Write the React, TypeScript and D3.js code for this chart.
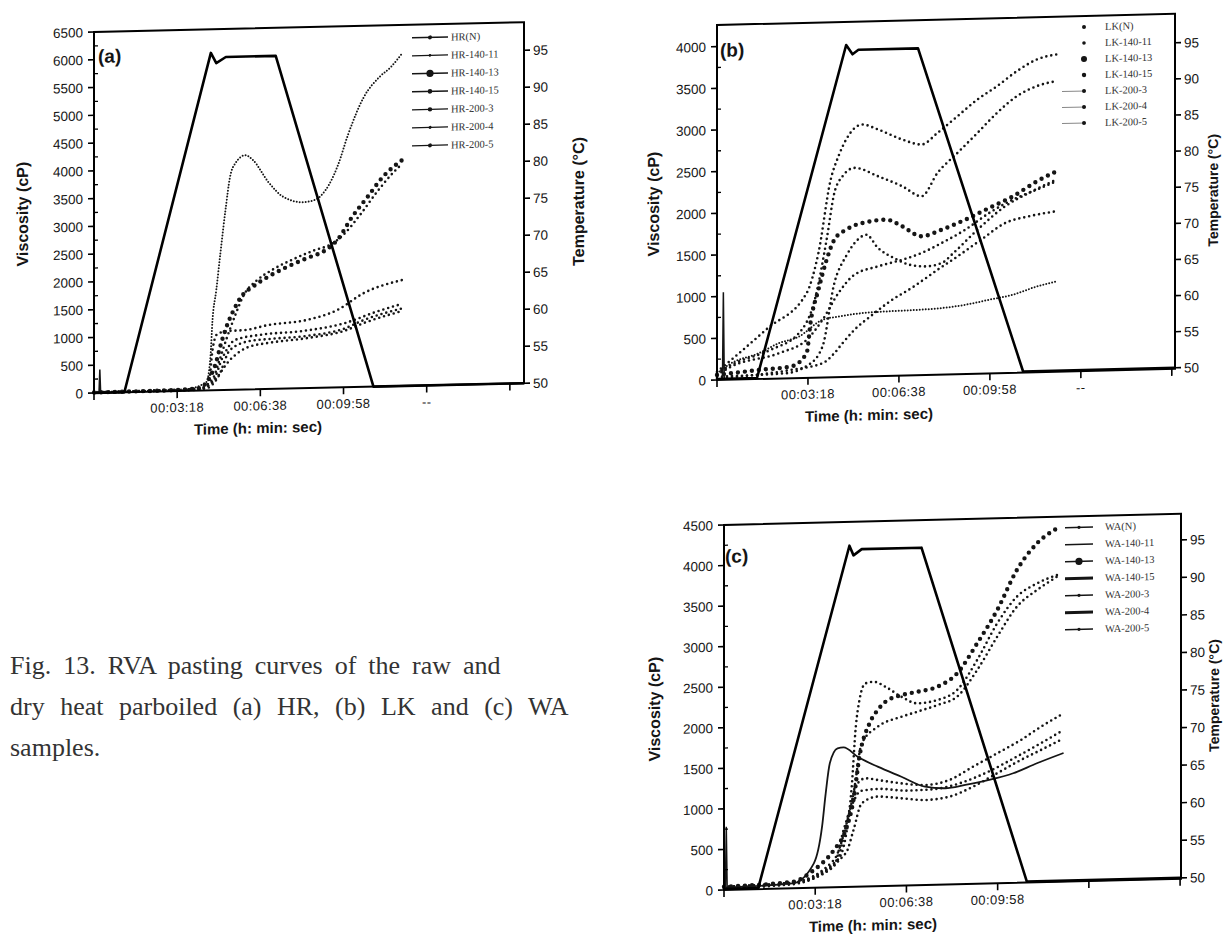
import React from "react";
import * as d3 from "d3";

type Pt = [number, number];

// ---------- shared axis data ----------
const TIME_TICKS = [0, 200, 400, 600, 800, 1000];
const TIME_LABELS_AB = ["", "00:03:18", "00:06:38", "00:09:58", "--", ""];
const TIME_LABELS_C = ["", "00:03:18", "00:06:38", "00:09:58", "", ""];
const TEMP_TICKS = [50, 55, 60, 65, 70, 75, 80, 85, 90, 95];
const VISC_TICKS_A = [0, 500, 1000, 1500, 2000, 2500, 3000, 3500, 4000, 4500, 5000, 5500, 6000, 6500];
const VISC_TICKS_B = [0, 500, 1000, 1500, 2000, 2500, 3000, 3500, 4000];
const VISC_TICKS_C = [0, 500, 1000, 1500, 2000, 2500, 3000, 3500, 4000, 4500];

// ---------- panel (a) HR : [time s, viscosity cP] ----------
const HR_NAMES = ["HR(N)", "HR-140-11", "HR-140-13", "HR-140-15", "HR-200-3", "HR-200-4", "HR-200-5"];
const HR_N: Pt[] = [[0, 20], [120, 20], [220, 30], [270, 150], [280, 600], [285, 1266], [294, 1800], [304, 2470], [317, 3290], [327, 3830], [340, 4080], [364, 4220], [382, 4130], [419, 3730], [456, 3450], [502, 3350], [529, 3380], [557, 3560], [585, 3970], [612, 4570], [649, 5220], [686, 5570], [714, 5750], [741, 5990]];
const HR_140_11: Pt[] = [[0, 10], [250, 30], [285, 200], [300, 500], [320, 950], [340, 1350], [360, 1700], [390, 1950], [430, 2150], [480, 2330], [530, 2480], [570, 2580], [600, 2750], [640, 3100], [680, 3500], [720, 3850], [741, 4000]];
const HR_140_13: Pt[] = [[0, 10], [150, 15], [250, 40], [290, 424], [308, 902], [322, 1205], [336, 1437], [354, 1674], [382, 1849], [419, 2023], [465, 2195], [511, 2337], [557, 2479], [585, 2655], [621, 3068], [658, 3422], [695, 3776], [741, 4068]];
const HR_140_15: Pt[] = [[0, 10], [200, 20], [260, 50], [276, 133], [285, 726], [295, 1000], [320, 1060], [364, 1072], [419, 1153], [511, 1227], [585, 1395], [649, 1690], [741, 1908]];
const HR_200_3: Pt[] = [[0, 10], [200, 20], [270, 40], [299, 242], [327, 718], [373, 870], [419, 900], [511, 940], [603, 1061], [649, 1204], [741, 1398]];
const HR_200_4: Pt[] = [[0, 5], [250, 15], [290, 185], [327, 540], [373, 770], [419, 830], [511, 900], [603, 1020], [649, 1150], [741, 1350]];
const HR_200_5: Pt[] = [[0, 5], [250, 20], [285, 150], [310, 600], [340, 900], [400, 980], [500, 1030], [600, 1150], [680, 1350], [741, 1480]];
const HR_SPIKE: Pt[] = [[12, 0], [14, 420], [16, 0]];
const HR_TEMP: Pt[] = [[0, 50], [73, 50], [281, 95.6], [294, 94.2], [317, 95.0], [437, 95.0], [672, 50], [1034, 50]];

// ---------- panel (b) LK ----------
const LK_NAMES = ["LK(N)", "LK-140-11", "LK-140-13", "LK-140-15", "LK-200-3", "LK-200-4", "LK-200-5"];
const LK_N: Pt[] = [[0, 100], [31, 236], [110, 600], [197, 1016], [223, 1494], [250, 2371], [267, 2649], [284, 2848], [319, 3023], [354, 2959], [407, 2832], [450, 2766], [485, 2901], [529, 3096], [573, 3291], [616, 3445], [660, 3620], [704, 3754], [747, 3808]];
const LK_140_11: Pt[] = [[0, 80], [31, 176], [118, 346], [180, 537], [215, 934], [241, 1651], [258, 2210], [276, 2408], [302, 2505], [354, 2398], [407, 2271], [450, 2145], [485, 2421], [529, 2656], [573, 2890], [616, 3125], [660, 3320], [704, 3434], [747, 3488]];
const LK_140_13: Pt[] = [[0, 60], [92, 108], [162, 139], [197, 295], [206, 674], [223, 1053], [241, 1410], [258, 1649], [284, 1766], [319, 1841], [372, 1874], [407, 1790], [450, 1664], [494, 1738], [546, 1851], [599, 1986], [651, 2119], [704, 2292], [747, 2406]];
const LK_140_15: Pt[] = [[0, 40], [150, 60], [200, 150], [232, 371], [258, 1128], [284, 1450], [311, 1650], [328, 1700], [354, 1537], [389, 1412], [424, 1326], [459, 1302], [494, 1337], [520, 1455], [573, 1728], [634, 2001], [686, 2154], [747, 2306]];
const LK_200_3: Pt[] = [[0, 60], [31, 156], [136, 303], [197, 455], [232, 691], [267, 1007], [302, 1222], [354, 1316], [407, 1389], [450, 1464], [494, 1578], [546, 1731], [599, 1926], [651, 2079], [704, 2192], [747, 2286]];
const LK_200_4: Pt[] = [[0, 20], [162, 99], [232, 170], [258, 287], [276, 405], [302, 561], [337, 717], [380, 892], [433, 1065], [485, 1258], [529, 1413], [581, 1607], [634, 1800], [686, 1873], [747, 1926]];
const LK_200_5: Pt[] = [[0, 80], [31, 196], [92, 309], [136, 423], [180, 497], [232, 691], [267, 726], [319, 760], [372, 773], [442, 783], [494, 797], [546, 830], [599, 884], [651, 937], [704, 1030], [747, 1084]];
const LK_SPIKE: Pt[] = [[12, 0], [14, 1050], [16, 0]];
const LK_TEMP: Pt[] = [[0, 50], [88, 50], [284, 95.8], [298, 94.5], [311, 95.1], [442, 95.1], [673, 50], [1007, 50]];

// ---------- panel (c) WA ----------
const WA_NAMES = ["WA(N)", "WA-140-11", "WA-140-13", "WA-140-15", "WA-200-3", "WA-200-4", "WA-200-5"];
const WA_N: Pt[] = [[0, 40], [150, 70], [249, 336], [267, 621], [280, 1235], [289, 1973], [297, 2301], [310, 2504], [328, 2522], [354, 2457], [389, 2329], [424, 2243], [468, 2278], [511, 2395], [555, 2759], [599, 3205], [642, 3527], [686, 3685], [730, 3782]];
const WA_140_11: Pt[] = [[0, 40], [150, 70], [241, 337], [267, 744], [284, 1153], [302, 1766], [337, 1967], [389, 2082], [424, 2140], [468, 2216], [511, 2313], [555, 2635], [599, 3040], [642, 3403], [686, 3603], [730, 3761]];
const WA_140_13: Pt[] = [[0, 40], [150, 80], [197, 219], [241, 460], [267, 703], [284, 1071], [297, 1603], [319, 2010], [337, 2173], [354, 2272], [389, 2349], [424, 2386], [468, 2442], [511, 2600], [555, 2964], [599, 3369], [642, 3855], [686, 4178], [730, 4357]];
const WA_140_15: Pt[] = [[0, 30], [150, 60], [249, 336], [258, 511], [275, 949], [293, 1274], [310, 1334], [337, 1310], [389, 1261], [441, 1234], [494, 1288], [546, 1445], [599, 1603], [651, 1760], [695, 1918], [738, 2056]];
const WA_200_3: Pt[] = [[0, 20], [150, 50], [267, 416], [284, 701], [302, 1027], [337, 1105], [389, 1077], [441, 1049], [494, 1083], [546, 1199], [599, 1357], [651, 1514], [695, 1631], [738, 1748]];
const WA_200_4: Pt[] = [[0, 30], [150, 60], [197, 302], [215, 751], [223, 1161], [232, 1530], [249, 1712], [262, 1723], [293, 1603], [337, 1474], [389, 1343], [441, 1213], [485, 1188], [529, 1223], [581, 1277], [634, 1352], [686, 1468], [743, 1584]];
const WA_200_5: Pt[] = [[0, 20], [150, 60], [240, 250], [262, 700], [280, 1000], [300, 1180], [340, 1200], [400, 1170], [460, 1180], [520, 1250], [580, 1380], [640, 1550], [690, 1700], [738, 1850]];
const WA_SPIKE: Pt[] = [[3, 0], [5, 780], [7, 0]];
const WA_TEMP: Pt[] = [[0, 50], [75, 50], [275, 95.3], [284, 94.0], [302, 94.8], [433, 94.8], [664, 50], [1002, 50]];

// ---------- styles ----------
type StyleKey = "fine" | "dot" | "big" | "line" | "thick";
const STYLES: Record<StyleKey, { w: number; dash: string | null }> = {
  fine: { w: 2.0, dash: "0 3" },
  dot: { w: 2.6, dash: "0 5" },
  big: { w: 4.4, dash: "0 7" },
  line: { w: 1.8, dash: null },
  thick: { w: 2.6, dash: null },
};
const HR_STYLES: StyleKey[] = ["fine", "dot", "big", "dot", "dot", "dot", "dot"];
const LK_STYLES: StyleKey[] = ["dot", "dot", "big", "dot", "dot", "dot", "fine"];
const WA_STYLES: StyleKey[] = ["dot", "dot", "big", "dot", "dot", "line", "dot"];

type Cfg = {
  left: number; right: number; top: number; bottom: number;
  tMax: number; yMax: number; t50: number; t95: number; angle: number;
  vTicks: number[]; timeLabels: string[]; series: Pt[][]; styles: StyleKey[];
  names: string[]; spike: Pt[]; temp: Pt[]; tag: string;
  tagX: number; tagY: number; vTitleX: number; tTitleX: number; tTitleSize: number; timeTitleX: number;
  legend: { kind: "a" | "b" | "c"; x0: number; x1: number; tx: number; y0: number; dy: number; radii: number[]; widths: number[]; lines: boolean[] };
};

const SANS = "'Liberation Sans', Arial, sans-serif";
const SERIF = "'Liberation Serif', 'Times New Roman', serif";
const INK = "#151515";

function Panel({ c }: { c: Cfg }) {
  const x = d3.scaleLinear().domain([0, c.tMax]).range([c.left, c.right]);
  const y = d3.scaleLinear().domain([0, c.yMax]).range([c.bottom, c.top]);
  const yT = d3.scaleLinear().domain([50, 95]).range([c.t50, c.t95]);
  const vLine = d3.line<Pt>().x((d) => x(d[0])).y((d) => y(d[1])).curve(d3.curveMonotoneX);
  const sLine = d3.line<Pt>().x((d) => x(d[0])).y((d) => y(d[1]));
  const tLine = d3.line<Pt>().x((d) => x(d[0])).y((d) => yT(d[1]));
  const minor = c.vTicks.slice(0, -1).map((v) => v + 250);
  const midY = (c.top + c.bottom) / 2;
  const lg = c.legend;
  // the scanned page is slightly tilted: shear the panel about its lower-left corner
  const tf = `translate(${c.left} ${c.bottom}) skewY(${c.angle}) translate(${-c.left} ${-c.bottom})`;
  return (
    <g transform={tf}>
      {c.series.map((s, i) => {
        const st = STYLES[c.styles[i]];
        return (
          <path key={i} d={vLine(s) || ""} fill="none" stroke={INK} strokeWidth={st.w}
            strokeDasharray={st.dash || undefined} strokeLinecap="round" strokeLinejoin="round" />
        );
      })}
      <path d={sLine(c.spike) || ""} fill="none" stroke={INK} strokeWidth={1.5} />
      <path d={tLine(c.temp) || ""} fill="none" stroke="#000" strokeWidth={2.6} strokeLinejoin="round" />
      <rect x={c.left} y={c.top} width={c.right - c.left} height={c.bottom - c.top} fill="none" stroke="#000" strokeWidth={2} />
      {c.vTicks.map((v) => (
        <g key={v}>
          <line x1={c.left - 6} x2={c.left} y1={y(v)} y2={y(v)} stroke="#000" strokeWidth={1.6} />
          <text x={c.left - 11} y={y(v) + 5} textAnchor="end" fontFamily={SANS} fontSize={13.5} fill={INK}>{v}</text>
        </g>
      ))}
      {minor.map((v) => (
        <line key={"m" + v} x1={c.left} x2={c.left + 4} y1={y(v)} y2={y(v)} stroke="#000" strokeWidth={1.3} />
      ))}
      {TEMP_TICKS.map((t) => (
        <g key={t}>
          <line x1={c.right} x2={c.right + 6} y1={yT(t)} y2={yT(t)} stroke="#000" strokeWidth={1.6} />
          <text x={c.right + 9} y={yT(t) + 5} fontFamily={SANS} fontSize={13.5} fill={INK}>{t}</text>
        </g>
      ))}
      {TIME_TICKS.map((t, i) => (
        <g key={t}>
          <line x1={x(t)} x2={x(t)} y1={c.bottom} y2={c.bottom + 7} stroke="#000" strokeWidth={1.6} />
          <text x={x(t)} y={c.bottom + 21} textAnchor="middle" fontFamily={SANS} fontSize={13} letterSpacing={0.4} fill={INK}>{c.timeLabels[i]}</text>
        </g>
      ))}
      <text x={c.timeTitleX} y={c.bottom + 44} textAnchor="middle" fontFamily={SANS} fontSize={15} fontWeight="bold" fill={INK}>Time (h: min: sec)</text>
      <text transform={`translate(${c.vTitleX},${midY}) rotate(-90)`} textAnchor="middle" fontFamily={SANS} fontSize={16} fontWeight="bold" fill={INK}>Viscosity (cP)</text>
      <text transform={`translate(${c.tTitleX},${midY}) rotate(-90)`} textAnchor="middle" fontFamily={SANS} fontSize={c.tTitleSize} fontWeight="bold" fill={INK}>Temperature (°C)</text>
      <text x={c.tagX} y={c.tagY} fontFamily={SANS} fontSize={19} fontWeight="bold" fill={INK}>{c.tag}</text>
      {c.names.map((n, i) => {
        const ly = lg.y0 + i * lg.dy;
        const mx = (lg.x0 + lg.x1) / 2;
        return (
          <g key={n}>
            {lg.lines[i] && (
              <line x1={lg.x0} x2={lg.x1} y1={ly} y2={ly} stroke={lg.kind === "b" ? "#888" : INK} strokeWidth={lg.widths[i]} />
            )}
            {lg.radii[i] > 0 && <circle cx={lg.kind === "b" ? lg.x1 - 2 : mx} cy={ly} r={lg.radii[i]} fill={INK} />}
            <text x={lg.tx} y={ly + 3.5} fontFamily={SERIF} fontSize={10.5} fill="#333">{n}</text>
          </g>
        );
      })}
    </g>
  );
}

const PANEL_A: Cfg = {
  left: 94, right: 524, top: 32, bottom: 393, tMax: 1034, yMax: 6500, t50: 393, t95: 60, angle: -1.3,
  vTicks: VISC_TICKS_A, timeLabels: TIME_LABELS_AB,
  series: [HR_N, HR_140_11, HR_140_13, HR_140_15, HR_200_3, HR_200_4, HR_200_5], styles: HR_STYLES,
  names: HR_NAMES, spike: HR_SPIKE, temp: HR_TEMP, tag: "(a)", tagX: 98, tagY: 63,
  vTitleX: 28, tTitleX: 584, tTitleSize: 16, timeTitleX: 258,
  legend: { kind: "a", x0: 412, x1: 448, tx: 451, y0: 45, dy: 18, radii: [2, 1.3, 3.6, 2.3, 2.2, 1.5, 2], widths: [1.5, 1.3, 1.5, 1.5, 1.3, 1.2, 1.2], lines: [true, true, true, true, true, true, true] },
};
const PANEL_B: Cfg = {
  left: 717, right: 1175, top: 25, bottom: 380, tMax: 1007, yMax: 4260, t50: 379, t95: 54, angle: -1.4,
  vTicks: VISC_TICKS_B, timeLabels: TIME_LABELS_AB,
  series: [LK_N, LK_140_11, LK_140_13, LK_140_15, LK_200_3, LK_200_4, LK_200_5], styles: LK_STYLES,
  names: LK_NAMES, spike: LK_SPIKE, temp: LK_TEMP, tag: "(b)", tagX: 720, tagY: 57,
  vTitleX: 659, tTitleX: 1218, tTitleSize: 14, timeTitleX: 869,
  legend: { kind: "b", x0: 1062, x1: 1086, tx: 1105, y0: 36, dy: 16, radii: [2, 1.8, 3, 2.2, 2, 2, 2], widths: [0, 0, 0, 0, 1, 1, 1], lines: [false, false, false, false, true, true, true] },
};
const PANEL_C: Cfg = {
  left: 724, right: 1181, top: 525, bottom: 890, tMax: 1002, yMax: 4500, t50: 889, t95: 551, angle: -1.4,
  vTicks: VISC_TICKS_C, timeLabels: TIME_LABELS_C,
  series: [WA_N, WA_140_11, WA_140_13, WA_140_15, WA_200_3, WA_200_4, WA_200_5], styles: WA_STYLES,
  names: WA_NAMES, spike: WA_SPIKE, temp: WA_TEMP, tag: "(c)", tagX: 725, tagY: 563,
  vTitleX: 660, tTitleX: 1219, tTitleSize: 14, timeTitleX: 873,
  legend: { kind: "c", x0: 1065, x1: 1093, tx: 1105, y0: 536, dy: 17, radii: [1.6, 0, 3.6, 0, 1.6, 0, 1.6], widths: [1.5, 1.5, 1.5, 3, 1.5, 3, 1.5], lines: [true, true, true, true, true, true, true] },
};

const CAPTION = [
  "Fig. 13. RVA pasting curves of the raw and",
  "dry heat parboiled (a) HR, (b) LK and (c) WA",
  "samples.",
];
const CAPTION_WORD_GAP = [5.5, 9, 0];

export default function App() {
  return (
    <svg width={1223} height={944} viewBox="0 0 1223 944"
      style={{ position: "absolute", left: 0, top: 0, background: "#fff" }}>
      <rect width={1223} height={944} fill="#fff" />
      <Panel c={PANEL_A} />
      <Panel c={PANEL_B} />
      <Panel c={PANEL_C} />
      {CAPTION.map((s, i) => (
        <text key={i} x={10} y={674 + i * 41} fontFamily={SERIF} fontSize={26} fill="#333"
          wordSpacing={CAPTION_WORD_GAP[i]}>{s}</text>
      ))}
    </svg>
  );
}
